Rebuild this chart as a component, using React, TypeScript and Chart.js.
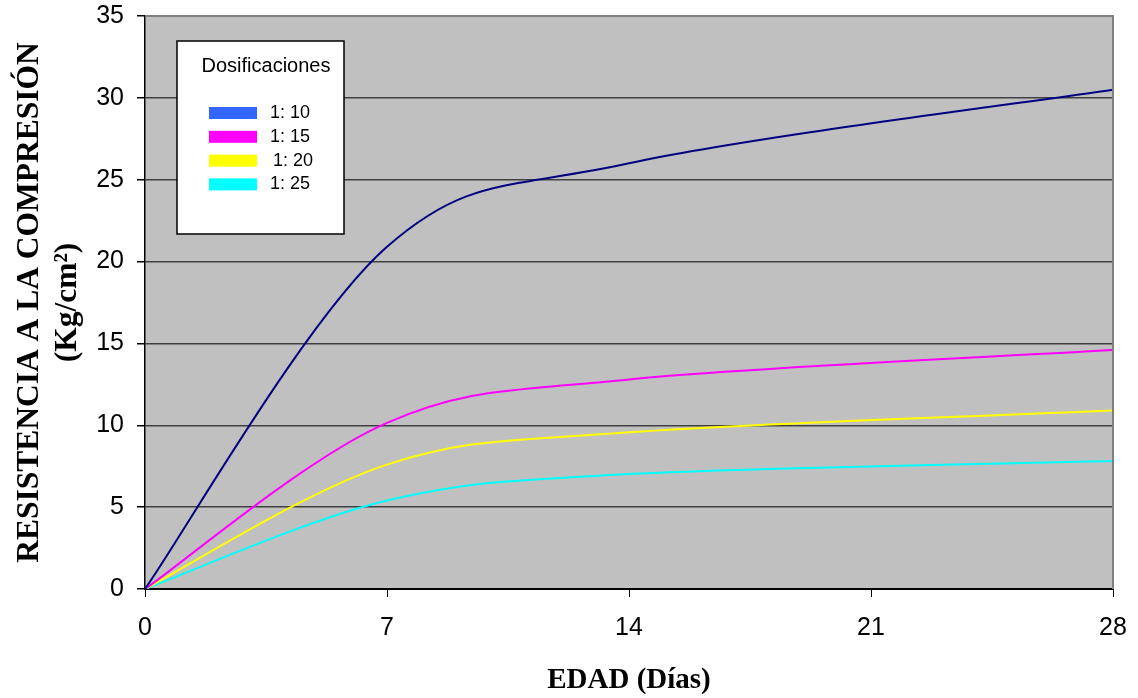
import { useEffect, useRef } from 'react';
import { Chart, registerables } from 'chart.js';

Chart.register(...registerables);

// ---- data ----
const days = [0, 7, 14, 28];
const seriesLabels = ['1: 10', '1: 15', '1: 20', '1: 25'];
const res110 = [0, 20.9, 26.0, 30.5];
const res115 = [0, 10.15, 12.8, 14.6];
const res120 = [0, 7.6, 9.57, 10.9];
const res125 = [0, 5.4, 7.02, 7.82];
const lineColors = ['#000080', '#FF00FF', '#FFFF00', '#00FFFF'];
const legendColors = ['#3366FF', '#FF00FF', '#FFFF00', '#00FFFF'];
const legendTitle = 'Dosificaciones';
const xTitle = 'EDAD (Días)';
const yTitle = ['RESISTENCIA A LA COMPRESIÓN', '(Kg/cm²)'];
const xRange = [0, 28, 7];
const yRange = [0, 35, 5];

const seriesValues = [res110, res115, res120, res125];

// Excel-style smoothing: control points at 1/6 of (next - prev)
const excelSmooth = {
  id: 'excelSmooth',
  beforeDatasetsDraw(chart: any) {
    chart.data.datasets.forEach((_: any, i: number) => {
      const meta = chart.getDatasetMeta(i);
      const pts = meta.data;
      const n = pts.length;
      for (let k = 0; k < n; k++) {
        const p = pts[k];
        const prev = pts[Math.max(k - 1, 0)];
        const next = pts[Math.min(k + 1, n - 1)];
        const dx = (next.x - prev.x) / 6;
        const dy = (next.y - prev.y) / 6;
        p.cp1x = p.x - dx;
        p.cp1y = p.y - dy;
        p.cp2x = p.x + dx;
        p.cp2y = p.y + dy;
      }
      if (meta.dataset) {
        meta.dataset._pointsUpdated = true;
        meta.dataset._path = undefined;
      }
    });
  },
};

const plotBg = {
  id: 'plotBg',
  beforeDraw(chart: any) {
    const { ctx, chartArea } = chart;
    const { left, top, right, bottom } = chartArea;
    ctx.save();
    ctx.fillStyle = '#C0C0C0';
    ctx.fillRect(left, top, right - left, bottom - top);
    ctx.restore();
  },
};

const frameAndLegend = {
  id: 'frameAndLegend',
  afterDatasetsDraw(chart: any) {
    const { ctx, chartArea } = chart;
    const { left, top, right, bottom } = chartArea;
    ctx.save();
    // gray top/right frame
    ctx.strokeStyle = '#808080';
    ctx.lineWidth = 2;
    ctx.beginPath();
    ctx.moveTo(left, top);
    ctx.lineTo(right, top);
    ctx.lineTo(right, bottom);
    ctx.stroke();

    // legend box
    const bx = left + 32;
    const by = top + 25;
    const bw = 167;
    const bh = 193;
    ctx.fillStyle = '#FFFFFF';
    ctx.fillRect(bx, by, bw, bh);
    ctx.strokeStyle = '#000000';
    ctx.lineWidth = 1.5;
    ctx.strokeRect(bx, by, bw, bh);

    ctx.fillStyle = '#000000';
    ctx.font = '20px "Liberation Sans", Arial, sans-serif';
    ctx.textAlign = 'center';
    ctx.textBaseline = 'alphabetic';
    ctx.fillText(legendTitle, bx + 89, by + 31);

    ctx.font = '18px "Liberation Sans", Arial, sans-serif';
    ctx.textAlign = 'left';
    seriesLabels.forEach((lab, i) => {
      const y = by + 66 + i * 23.8;
      ctx.fillStyle = legendColors[i];
      ctx.fillRect(bx + 32, y, 48, 12);
      ctx.fillStyle = '#000000';
      ctx.fillText(lab, bx + 93 + (i === 2 ? 3 : 0), y + 11);
    });
    ctx.restore();
  },
};

function zeroPad(scale: any) {
  scale.paddingTop = 0;
  scale.paddingBottom = 0;
  scale.paddingLeft = 0;
  scale.paddingRight = 0;
}

export default function App() {
  const ref = useRef<HTMLCanvasElement | null>(null);

  useEffect(() => {
    document.body.style.margin = '0';
    const canvas = ref.current;
    if (!canvas) return;
    const chart = new Chart(canvas, {
      type: 'line',
      data: {
        datasets: seriesValues.map((vals, i) => ({
          label: seriesLabels[i],
          data: days.map((d, j) => ({ x: d, y: vals[j] })),
          borderColor: lineColors[i],
          backgroundColor: lineColors[i],
          borderWidth: 2,
          pointRadius: 0,
          tension: 0.4,
          fill: false,
        })),
      },
      options: {
        responsive: false,
        animation: false,
        devicePixelRatio: 1,
        layout: { padding: { top: 16, right: 25, left: 0, bottom: 0 } },
        plugins: {
          legend: { display: false },
          tooltip: { enabled: false },
        },
        scales: {
          x: {
            type: 'linear',
            min: xRange[0],
            max: xRange[1],
            ticks: {
              stepSize: xRange[2],
              color: '#000',
              padding: 16,
              font: { family: '"Liberation Sans", Arial, sans-serif', size: 25 },
            },
            grid: {
              drawOnChartArea: false,
              drawTicks: true,
              tickLength: 8,
              tickColor: '#000',
              color: '#000',
            },
            border: { display: true, color: '#000', width: 2 },
            title: {
              display: true,
              text: xTitle,
              color: '#000',
              font: { family: '"Liberation Serif", "Times New Roman", serif', size: 29, weight: 'bold' },
              padding: { top: 0, bottom: 0 },
            },
            afterFit(scale: any) {
              scale.height = 109;
              zeroPad(scale);
            },
          },
          y: {
            type: 'linear',
            min: yRange[0],
            max: yRange[1],
            ticks: {
              stepSize: yRange[2],
              color: '#000',
              padding: 13,
              font: { family: '"Liberation Sans", Arial, sans-serif', size: 25 },
            },
            grid: {
              color: '#404040',
              lineWidth: 1.5,
              drawTicks: true,
              tickLength: 8,
              tickColor: '#000',
            },
            border: { display: true, color: '#000', width: 1.5 },
            title: {
              display: true,
              text: yTitle,
              color: '#000',
              font: { family: '"Liberation Serif", "Times New Roman", serif', size: 31.5, weight: 'bold' },
              padding: { top: 11, bottom: 0 },
            },
            afterFit(scale: any) {
              scale.width = 145;
              zeroPad(scale);
            },
          },
        },
      } as any,
      plugins: [plotBg, excelSmooth, frameAndLegend],
    });
    return () => chart.destroy();
  }, []);

  return (
    <div style={{ position: 'absolute', left: 0, top: 0, width: 1138, height: 698, background: '#fff' }}>
      <canvas ref={ref} width={1138} height={698} />
    </div>
  );
}
